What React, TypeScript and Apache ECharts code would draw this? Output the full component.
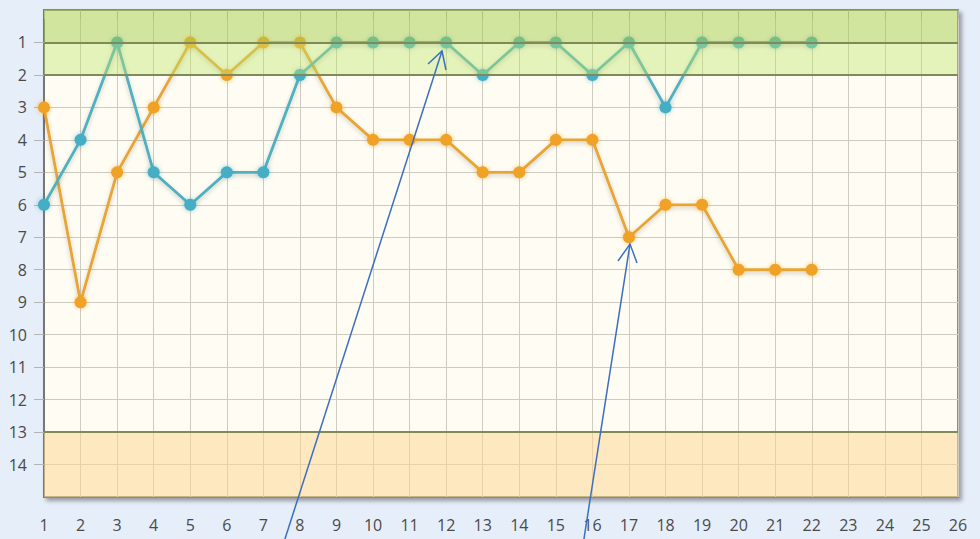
import React, { useEffect, useRef } from "react";
import * as echarts from "echarts";

const rounds = [1, 2, 3, 4, 5, 6, 7, 8, 9, 10, 11, 12, 13, 14, 15, 16, 17, 18, 19, 20, 21, 22];
const tealPositions = [6, 4, 1, 5, 6, 5, 5, 2, 1, 1, 1, 1, 2, 1, 1, 2, 1, 3, 1, 1, 1, 1];
const orangePositions = [3, 9, 5, 3, 1, 2, 1, 1, 3, 4, 4, 4, 5, 5, 4, 4, 7, 6, 6, 8, 8, 8];
const positionTicks = [1, 2, 3, 4, 5, 6, 7, 8, 9, 10, 11, 12, 13, 14];
const xMin = 1;
const xMax = 26;
const yMin = 0;
const yMax = 15;
const bandLines = [1, 2, 13];

// annotation arrows (tip, tail, left arm, right arm) in pixels
const arrows = [
  { tip: [442, 51], tail: [283, 545], a1: [428, 64], a2: [446, 70] },
  { tip: [630, 244], tail: [583, 545], a1: [618, 261], a2: [637, 263] },
];

export default function App() {
  const ref = useRef<HTMLDivElement>(null);
  useEffect(() => {
    if (!ref.current) return;
    const chart = echarts.init(ref.current, undefined, { renderer: "svg" });
    const font = "'Open Sans', 'Noto Sans', sans-serif";
    const pair = (ys: number[]) => rounds.map((r, i) => [r, ys[i]]);
    const arrowGraphics: any[] = [];
    arrows.forEach((a) => {
      arrowGraphics.push({
        type: "line",
        z: 100,
        shape: { x1: a.tail[0], y1: a.tail[1], x2: a.tip[0], y2: a.tip[1] },
        style: { stroke: "#3c6fbf", lineWidth: 1.5 },
      });
      arrowGraphics.push({
        type: "polyline",
        z: 100,
        shape: { points: [a.a1, a.tip, a.a2] },
        style: { stroke: "#3c6fbf", lineWidth: 1.5, fill: null },
      });
    });
    chart.setOption({
      animation: false,
      backgroundColor: "#e6eef9",
      grid: {
        left: 44,
        right: 22,
        top: 10,
        bottom: 42,
        show: true,
        backgroundColor: "#fffdf3",
        borderColor: "#8a8f6c",
        borderWidth: 2,
        shadowColor: "rgba(0,0,0,0.35)",
        shadowBlur: 4,
        shadowOffsetX: 3,
        shadowOffsetY: 3,
      },
      xAxis: {
        type: "value",
        min: xMin,
        max: xMax,
        interval: 1,
        axisLine: { show: false },
        axisTick: { show: true, length: 9, lineStyle: { color: "#b5b5b5" } },
        axisLabel: { color: "#4a4a4a", fontSize: 16, fontFamily: font, margin: 20 },
        splitLine: { show: true, lineStyle: { color: "#cfcbbf", width: 1 } },
      },
      yAxis: {
        type: "value",
        inverse: true,
        min: yMin,
        max: yMax,
        interval: 1,
        axisLine: { show: true, lineStyle: { color: "#777", width: 2 } },
        axisTick: {
          show: true,
          length: 10,
          lineStyle: { color: "#b5b5b5" },
          customValues: positionTicks,
        },
        axisLabel: {
          color: "#4a4a4a",
          fontSize: 16,
          fontFamily: font,
          margin: 17,
          customValues: positionTicks,
        },
        splitLine: { show: true, lineStyle: { color: "#cfcbbf", width: 1 } },
      },
      series: [
        {
          type: "line",
          data: pair(orangePositions),
          z: 2,
          symbol: "circle",
          symbolSize: 12,
          color: "#f0a228",
          lineStyle: {
            width: 2.8,
            color: "#e8a535",
            shadowColor: "rgba(0,0,0,0.2)",
            shadowBlur: 4,
            shadowOffsetY: 2,
          },
          itemStyle: { color: "#f0a228", shadowColor: "rgba(240,150,20,0.5)", shadowBlur: 5 },
        },
        {
          type: "line",
          data: pair(tealPositions),
          z: 3,
          symbol: "circle",
          symbolSize: 12,
          color: "#45aec4",
          lineStyle: {
            width: 2.8,
            color: "#4fb0c0",
            shadowColor: "rgba(0,0,0,0.2)",
            shadowBlur: 4,
            shadowOffsetY: 2,
          },
          itemStyle: { color: "#45aec4", shadowColor: "rgba(40,150,180,0.5)", shadowBlur: 5 },
        },
        {
          type: "line",
          data: [],
          z: 5,
          silent: true,
          markArea: {
            silent: true,
            z: 10,
            data: [
              [{ yAxis: 0, itemStyle: { color: "rgba(165,205,75,0.5)" } }, { yAxis: 1 }],
              [{ yAxis: 1, itemStyle: { color: "rgba(190,228,105,0.42)" } }, { yAxis: 2 }],
              [{ yAxis: 13, itemStyle: { color: "rgba(252,215,150,0.55)" } }, { yAxis: 15 }],
            ],
          },
          markLine: {
            silent: true,
            z: 11,
            symbol: "none",
            label: { show: false },
            lineStyle: { type: "solid", color: "#7f8a5a", width: 2 },
            data: bandLines.map((v) => ({ yAxis: v })),
          },
        },
      ],
      graphic: arrowGraphics,
    });
    return () => chart.dispose();
  }, []);
  return (
    <div
      ref={ref}
      style={{ position: "fixed", left: 0, top: 0, width: 980, height: 539 }}
    />
  );
}
